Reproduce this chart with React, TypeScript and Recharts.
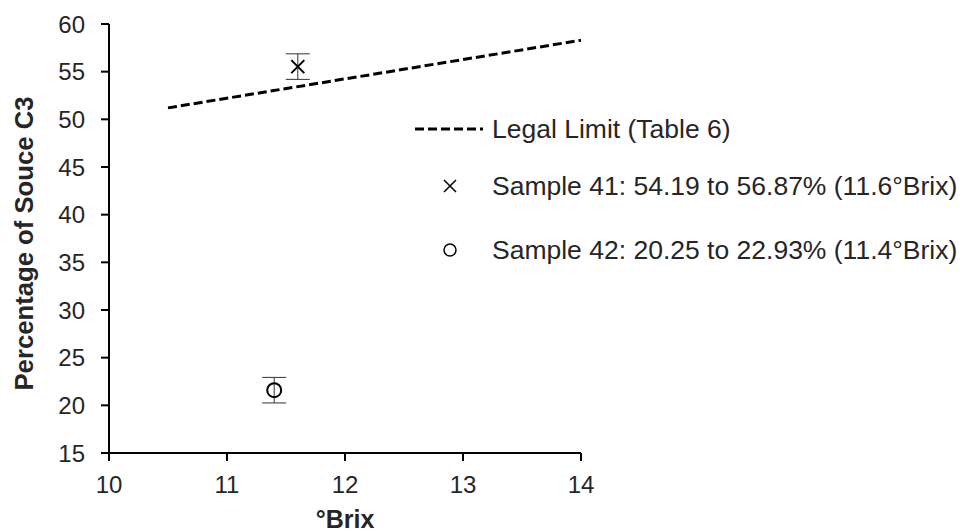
import React from 'react'
import {
  ScatterChart,
  Scatter,
  XAxis,
  YAxis,
  ErrorBar,
  Label
} from 'recharts'

// legal limit line
const LEGAL_BRIX = [10.5, 14]
const LEGAL_PCT = [51.2, 58.3]

// samples: °Brix and range of % source C3
const SAMPLE_NAMES = ['Sample 41', 'Sample 42']
const SAMPLE_BRIX = [11.6, 11.4]
const SAMPLE_LOW = [54.19, 20.25]
const SAMPLE_HIGH = [56.87, 22.93]

const X_TICKS = [10, 11, 12, 13, 14]
const Y_TICKS = [15, 20, 25, 30, 35, 40, 45, 50, 55, 60]

const FONT = '"Liberation Sans", Arial, sans-serif'
const TEXT = '#262626'

const legalData = LEGAL_BRIX.map((x, i) => ({ x, y: LEGAL_PCT[i] }))

const sampleData = SAMPLE_BRIX.map((x, i) => ({
  x,
  y: (SAMPLE_LOW[i] + SAMPLE_HIGH[i]) / 2,
  err: (SAMPLE_HIGH[i] - SAMPLE_LOW[i]) / 2
}))

const legendText = (i: number) =>
  `${SAMPLE_NAMES[i]}: ${SAMPLE_LOW[i].toFixed(2)} to ${SAMPLE_HIGH[i].toFixed(2)}% (${SAMPLE_BRIX[i]}°Brix)`

const CrossShape = (props: any) => {
  const { cx, cy } = props
  const r = 6.5
  return (
    <path
      d={`M${cx - r},${cy - r}L${cx + r},${cy + r}M${cx - r},${cy + r}L${cx + r},${cy - r}`}
      stroke="#000"
      strokeWidth={2}
      fill="none"
    />
  )
}

const CircleShape = (props: any) => {
  const { cx, cy } = props
  return <circle cx={cx} cy={cy} r={7} stroke="#000" strokeWidth={2} fill="none" />
}

const NoShape = () => <g />

const YTitle = (props: any) => {
  const { x, y, height } = props.viewBox
  const cx = x + 24
  const cy = y + height / 2 + 5
  return (
    <text
      x={cx}
      y={cy}
      transform={`rotate(-90 ${cx} ${cy})`}
      textAnchor="middle"
      dominantBaseline="central"
      fill={TEXT}
      fontSize={25.7}
      fontWeight="bold"
      fontFamily={FONT}
    >
      Percentage of Souce C3
    </text>
  )
}

// legend sits over the plot, outside recharts' layout
const LegendBox = () => {
  const row: React.CSSProperties = {
    position: 'absolute',
    left: 0,
    display: 'flex',
    alignItems: 'center',
    whiteSpace: 'nowrap',
    fontFamily: FONT,
    fontSize: 26.5,
    color: TEXT,
    height: 30
  }
  return (
    <div style={{ position: 'absolute', left: 415, top: 110, width: 548, height: 160 }}>
      <div style={{ ...row, top: 4 }}>
        <svg width={72} height={10} style={{ marginRight: 5 }}>
          <line x1={0} y1={5} x2={68} y2={5} stroke="#000" strokeWidth={3} strokeDasharray="9 4" />
        </svg>
        <span>Legal Limit (Table 6)</span>
      </div>
      <div style={{ ...row, top: 61 }}>
        <svg width={77} height={20}>
          <path d="M29,4L41,16M29,16L41,4" stroke="#000" strokeWidth={1.5} fill="none" />
        </svg>
        <span>{legendText(0)}</span>
      </div>
      <div style={{ ...row, top: 125 }}>
        <svg width={77} height={20}>
          <circle cx={35} cy={10} r={6} stroke="#000" strokeWidth={1.5} fill="none" />
        </svg>
        <span>{legendText(1)}</span>
      </div>
    </div>
  )
}

export default function App() {
  return (
    <div style={{ position: 'absolute', left: 0, top: 0, width: 963, height: 532, background: '#fff' }}>
      <ScatterChart
        width={963}
        height={532}
        margin={{ top: 24, right: 382, bottom: 0, left: 0 }}
        style={{ fontFamily: FONT }}
      >
        <XAxis
          type="number"
          dataKey="x"
          domain={[10, 14]}
          ticks={X_TICKS}
          height={79}
          tickSize={8}
          tickMargin={15}
          axisLine={{ stroke: '#000', strokeWidth: 2 }}
          tickLine={{ stroke: '#000', strokeWidth: 2 }}
          tick={{ fill: TEXT, fontSize: 24, fontFamily: FONT }}
        >
          <Label
            value="°Brix"
            position="insideBottom"
            offset={4}
            style={{ fill: TEXT, fontSize: 25, fontWeight: 'bold', fontFamily: FONT }}
          />
        </XAxis>
        <YAxis
          type="number"
          dataKey="y"
          domain={[15, 60]}
          ticks={Y_TICKS}
          interval={0}
          width={109}
          tickSize={8}
          tickMargin={16}
          axisLine={{ stroke: '#000', strokeWidth: 2 }}
          tickLine={{ stroke: '#000', strokeWidth: 2 }}
          tick={{ fill: TEXT, fontSize: 24, fontFamily: FONT }}
        >
          <Label content={YTitle} />
        </YAxis>
        <Scatter
          name="Legal Limit (Table 6)"
          data={legalData}
          line={{ stroke: '#000', strokeWidth: 3, strokeDasharray: '9 4' }}
          shape={NoShape}
          isAnimationActive={false}
        />
        <Scatter
          name={SAMPLE_NAMES[0]}
          data={[sampleData[0]]}
          shape={CrossShape}
          isAnimationActive={false}
        >
          <ErrorBar dataKey="err" direction="y" width={12} stroke="#333" strokeWidth={1} />
        </Scatter>
        <Scatter
          name={SAMPLE_NAMES[1]}
          data={[sampleData[1]]}
          shape={CircleShape}
          isAnimationActive={false}
        >
          <ErrorBar dataKey="err" direction="y" width={12} stroke="#333" strokeWidth={1} />
        </Scatter>
      </ScatterChart>
      <LegendBox />
    </div>
  )
}
